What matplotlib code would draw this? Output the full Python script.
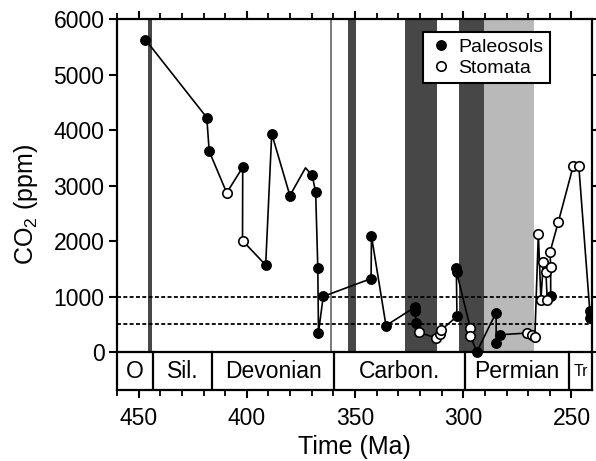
import matplotlib
matplotlib.use("Agg")
import matplotlib.pyplot as plt
from matplotlib.ticker import MultipleLocator

plt.rcParams['font.family'] = ['Liberation Sans', 'DejaVu Sans']
plt.rcParams['mathtext.fontset'] = 'custom'
plt.rcParams['mathtext.rm'] = 'Liberation Sans'
plt.rcParams['mathtext.default'] = 'regular'

# CO2 record: age (Ma), concentration (ppm) and proxy type
# P = paleosol, S = stomata, '-' = line vertex only
age = [446.9, 418.5, 417.4, 409.3, 401.9, 402.0, 391.3, 388.5, 380.1, 372.9,
       369.8, 368.2, 367.2, 366.9, 364.7, 342.6, 342.4, 335.7, 322.2, 322.2,
       321.8, 320.6, 312.4, 310.6, 310.2, 302.9, 303.2, 303.1, 296.8, 296.8,
       293.7, 284.8, 284.8, 283.0, 270.7, 268.4, 266.9, 265.3, 264.1, 263.0,
       261.8, 261.2, 259.6, 259.6, 259.9, 256.1, 249.2, 246.6, 241.5, 241.2]
co2 = [5630, 4225, 3620, 2870, 3330, 2010, 1570, 3935, 2820, 3320,
       3185, 2880, 1515, 355, 1005, 1325, 2090, 480, 815, 735,
       535, 360, 255, 330, 400, 645, 1515, 1450, 445, 300,
       10, 715, 175, 315, 345, 310, 280, 2130, 945, 1620,
       1445, 945, 1005, 1530, 1805, 2340, 3350, 3350, 735, 615]
proxy = ['P', 'P', 'P', 'S', 'P', 'S', 'P', 'P', 'P', '-',
         'P', 'P', 'P', 'P', 'P', 'P', 'P', 'P', 'P', 'P',
         'P', 'S', 'S', 'S', 'S', 'P', 'P', 'P', 'S', 'S',
         'P', 'P', 'P', 'P', 'S', 'S', 'S', 'S', 'S', 'S',
         'S', 'S', 'P', 'S', 'S', 'S', 'S', 'S', 'P', 'P']

# Glacial intervals (Ma): dark and light shading
dark_bands = [(445.5, 443.6), (353.4, 349.4), (326.8, 311.9), (301.8, 290.4)]
light_bands = [(290.4, 267.3)]
marker_line_age = 361.3

# Geological periods
period_names = ['O', 'Sil.', 'Devonian', 'Carbon.', 'Permian', 'Tr']
period_bounds = [460, 443.4, 416, 359.5, 299.2, 251.0, 240.5]

# Reference CO2 levels
ref_levels = [1000, 500]

fig = plt.figure(figsize=(5.96, 4.61), dpi=100)
ax = fig.add_axes([0.1963, 0.154, 0.7970, 0.8048])

ylo, yhi = -680, 6000
ax.set_xlim(460, 240.5)
ax.set_ylim(ylo, yhi)

for a, b in dark_bands:
    ax.fill_between([a, b], 0, yhi, color='#474747', lw=0, zorder=1)
for a, b in light_bands:
    ax.fill_between([a, b], 0, yhi, color='#b9b9b9', lw=0, zorder=1)
ax.plot([marker_line_age, marker_line_age], [0, yhi], color='#7a7a7a', lw=1.4, zorder=1)

for lvl in ref_levels:
    ax.axhline(lvl, color='black', lw=1.3, ls=(0, (2.2, 1.3)), zorder=2)

# period strip below zero
ax.axhline(0, color='black', lw=1.6, zorder=5)
for b in period_bounds[1:-1]:
    ax.plot([b, b], [ylo, 0], color='black', lw=1.6, zorder=5)
for i, name in enumerate(period_names):
    mid = 0.5 * (period_bounds[i] + period_bounds[i + 1])
    fs = 11.5 if name == 'Tr' else 16.5
    ax.text(mid, ylo / 2, name, ha='center', va='center', fontsize=fs, zorder=6)

# connecting line and proxy markers
ax.plot(age, co2, color='black', lw=1.2, zorder=3)
pal_x = [a for a, k in zip(age, proxy) if k == 'P']
pal_y = [c for c, k in zip(co2, proxy) if k == 'P']
sto_x = [a for a, k in zip(age, proxy) if k == 'S']
sto_y = [c for c, k in zip(co2, proxy) if k == 'S']
ax.plot(pal_x, pal_y, 'o', ms=6.8, mfc='black', mec='black', mew=1.0,
        ls='none', zorder=4, label='Paleosols')
ax.plot(sto_x, sto_y, 'o', ms=6.8, mfc='white', mec='black', mew=1.2,
        ls='none', zorder=4, label='Stomata')

leg = ax.legend(loc='upper left', bbox_to_anchor=(0.645, 0.966), fontsize=14,
                frameon=True, fancybox=False, framealpha=1, edgecolor='black',
                handletextpad=0.35, handlelength=1.1, borderpad=0.35,
                labelspacing=0.15, borderaxespad=0)
leg.get_frame().set_linewidth(1.5)
leg.set_zorder(10)

ax.set_yticks(range(0, 6001, 1000))
ax.xaxis.set_major_locator(MultipleLocator(50))
ax.xaxis.set_minor_locator(MultipleLocator(10))
ax.tick_params(axis='both', which='major', direction='out', length=6, width=1.5,
               labelsize=16.5, top=True, right=True)
ax.tick_params(axis='x', which='minor', direction='out', length=4, width=1.3,
               top=True, bottom=True)
ax.tick_params(axis='x', which='major', pad=6)
ax.tick_params(axis='y', which='major', pad=3)
for s in ax.spines.values():
    s.set_linewidth(1.6)

ax.set_xlabel('Time (Ma)', fontsize=18, labelpad=4)
ax.set_ylabel('CO$_2$ (ppm)', fontsize=18, labelpad=10)

fig.savefig('out.png', dpi=100)
